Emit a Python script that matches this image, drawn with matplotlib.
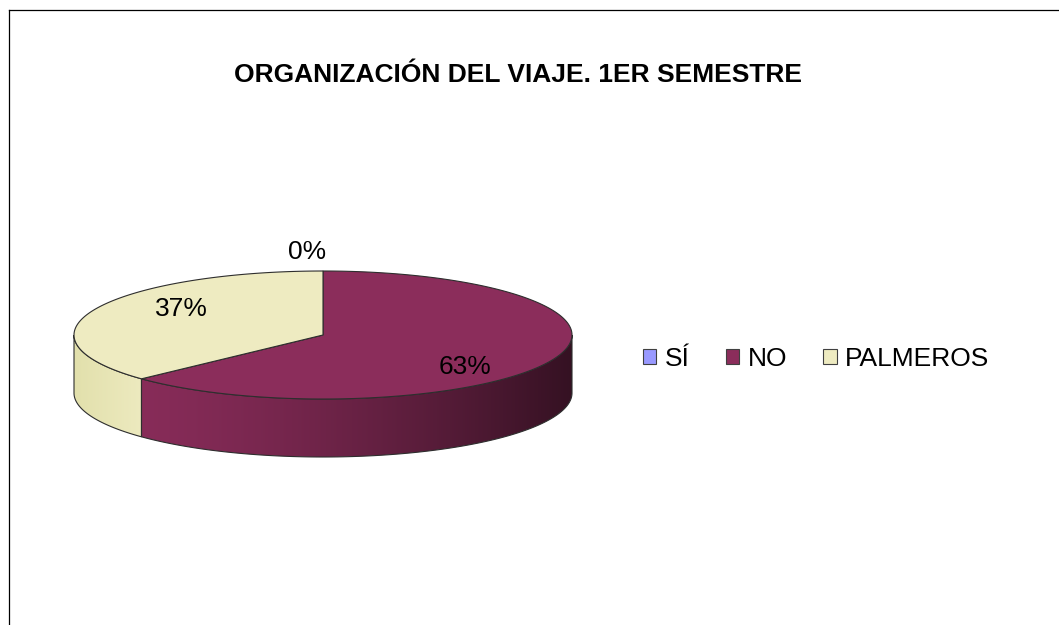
import numpy as np
import matplotlib
matplotlib.use("Agg")
import matplotlib.pyplot as plt
from matplotlib.patches import Polygon, Rectangle
from matplotlib.colors import to_rgb

plt.rcParams['font.family'] = ['Liberation Sans', 'DejaVu Sans']

# data
categories = ["SÍ", "NO", "PALMEROS"]
values = [0, 63, 37]
colors = ["#9999FF", "#8B2D5B", "#EEEBC1"]
title = "ORGANIZACIÓN DEL VIAJE. 1ER SEMESTRE"

# pie geometry (pixel units)
cx, cy = 323, 335
a, b = 249, 64
depth = 58

fig = plt.figure(figsize=(10.59, 6.25), dpi=100)
ax = fig.add_axes([0, 0, 1, 1])
ax.set_xlim(0, 1059)
ax.set_ylim(625, 0)
ax.axis("off")

# chart frame (cropped at right and bottom)
ax.plot([9, 1059], [10, 10], color="#000000", lw=0.9)
ax.plot([9, 9], [10, 625], color="#000000", lw=0.9)

def ept(deg, rx=1.0, ry=1.0, dy=0.0):
    t = np.radians(deg)
    return cx + rx * a * np.cos(t), cy - ry * b * np.sin(t) + dy

total = float(sum(values))
starts = []
s = 90.0
for v in values:
    e = s - 360.0 * v / total
    starts.append((s, e))
    s = e

edge = "#2e2e2e"

# front side walls
for (s, e), col, v in zip(starts, colors, values):
    if v == 0:
        continue
    lo, hi = e, s
    for k in range(-2, 2):
        l2, h2 = max(lo, -180 + 360 * k), min(hi, 0 + 360 * k)
        if h2 <= l2:
            continue
        th = np.linspace(l2, h2, 200)
        xt, yt = ept(th)
        xb, yb = ept(th, dy=depth)
        pts = np.column_stack([np.r_[xt, xb[::-1]], np.r_[yt, yb[::-1]]])
        poly = Polygon(pts, closed=True, facecolor="none", edgecolor=edge, lw=0.8, zorder=3)
        ax.add_patch(poly)
        xs = np.linspace(cx - a, cx + a, 400)
        tt = (xs - (cx - a)) / (2 * a)
        base = np.array(to_rgb(col))
        if base.mean() > 0.7:
            # light wedge: slightly darker/yellower at the far left edge
            left = np.array(to_rgb("#E2E0AC"))
            w = np.clip(tt / 0.15, 0, 1)[:, None]
            grad = left[None, :] * (1 - w) + base[None, :] * w
        else:
            fac = 1 - 0.62 * tt ** 1.6
            grad = base[None, :] * fac[:, None]
        grad = np.clip(grad, 0, 1)[None, :, :]
        im = ax.imshow(grad, extent=(cx - a, cx + a, cy + b + depth + 2, cy - b - 2),
                       origin="upper", aspect="auto", zorder=2, interpolation="bilinear")
        im.set_clip_path(poly)

# top faces
for (s, e), col, v in zip(starts, colors, values):
    if v == 0:
        continue
    th = np.linspace(s, e, 300)
    xt, yt = ept(th)
    pts = np.column_stack([np.r_[cx, xt], np.r_[cy, yt]])
    ax.add_patch(Polygon(pts, closed=True, facecolor=col, edgecolor=edge, lw=0.8, zorder=4))

# percentage labels
for (s, e), v in zip(starts, values):
    mid = (s + e) / 2
    pct = "%d%%" % round(100 * v / total)
    if v == 0:
        x, y = ept(mid, rx=1.3, ry=1.3)
        ax.text(x + 3, y, pct, ha="right", va="center", fontsize=19, zorder=5)
    else:
        x, y = ept(mid, rx=0.62, ry=1.15, dy=3)
        ax.text(x, y, pct, ha="center", va="center", fontsize=19, zorder=5)

ax.text(518, 75, title, ha="center", va="center", fontsize=19, fontweight="bold")

handles = [Rectangle((0, 0), 1, 1, facecolor=c, edgecolor="#404040", lw=0.8) for c in colors]
fig.legend(handles, categories, loc="center", bbox_to_anchor=(816 / 1059, 1 - 359 / 625),
           ncol=3, frameon=False, fontsize=19, handlelength=0.5, handleheight=0.5,
           handletextpad=0.32, columnspacing=1.38, borderaxespad=0, borderpad=0)

fig.savefig("out.png", dpi=100)
